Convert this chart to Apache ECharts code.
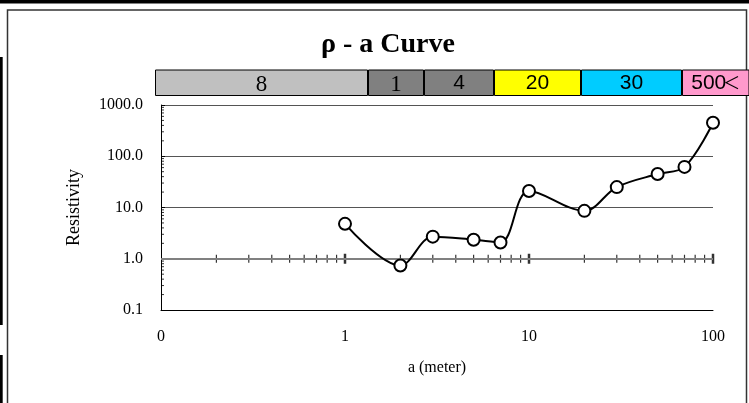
<!DOCTYPE html>
<html>
<head>
<meta charset="utf-8">
<script src="https://cdn.jsdelivr.net/npm/echarts@6/dist/echarts.min.js"></script>
<style>
html,body{margin:0;padding:0;background:#fff;}
#chart{width:749px;height:403px;}
</style>
</head>
<body>
<div id="chart"></div>
<script>
// ---- data ----
const aValues = [1, 2, 3, 5, 7, 10, 20, 30, 50, 70, 100];
const rhoValues = [4.8, 0.74, 2.7, 2.35, 2.08, 21, 8.6, 25, 45, 62, 450];

const xTickValues = [0.1, 1, 10, 100];
const xTickLabels = ['0', '1', '10', '100'];
const yTickValues = [0.1, 1, 10, 100, 1000];
const yTickLabels = ['0.1', '1.0', '10.0', '100.0', '1000.0'];

const xMinorTicks = [0.2, 0.3, 0.4, 0.5, 0.6, 0.7, 0.8, 0.9,
                     2, 3, 4, 5, 6, 7, 8, 9,
                     20, 30, 40, 50, 60, 70, 80, 90];
const xMajorTicks = [1, 10, 100];
const yMinorTicks = [0.2, 0.3, 0.4, 0.5, 0.6, 0.7, 0.8, 0.9,
                     2, 3, 4, 5, 6, 7, 8, 9,
                     20, 30, 40, 50, 60, 70, 80, 90,
                     200, 300, 400, 500, 600, 700, 800, 900];

const bandLabels = ['8', '1', '4', '20', '30', '500＜'];
const bandSpans = [213, 56, 70, 87, 101, 72];

// ---- styles ----
const bandColors = ['#C0C0C0', '#808080', '#808080', '#FFFF00', '#00CCFF', '#FF99CC'];
const bandSerif = [true, true, false, false, false, false];
const SERIF = '"Liberation Serif","Times New Roman",serif';
const SANS = '"Liberation Sans",Arial,"Noto Sans CJK JP",sans-serif';

function lookup(v, vals, labels) {
  for (let i = 0; i < vals.length; i++) {
    if (Math.abs(Math.log10(v) - Math.log10(vals[i])) < 1e-6) return labels[i];
  }
  return '';
}

// wrap the full-width "＜" in a narrower rich-text style
function bandText(lab) {
  return lab.replace(/＜/g, '{lt|＜}');
}

const chart = echarts.init(document.getElementById('chart'), null, {renderer: 'canvas'});

const bandSeries = bandLabels.map((lab, i) => ({
  type: 'bar',
  xAxisIndex: 1,
  yAxisIndex: 1,
  stack: 'band',
  barWidth: '100%',
  clip: true,
  silent: true,
  data: [bandSpans[i]],
  itemStyle: {color: bandColors[i], borderColor: '#000', borderWidth: 1},
  label: {
    show: true,
    position: 'inside',
    formatter: bandText(lab),
    color: '#000',
    fontFamily: bandSerif[i] ? SERIF : SANS,
    fontSize: bandSerif[i] ? 23 : 21,
    offset: bandSerif[i] ? [0, 2] : [0, 0],
    rich: {
      lt: {fontFamily: '"Noto Sans CJK JP",sans-serif', fontSize: 17, color: '#000', padding: [0, 0, 0, -3]}
    }
  }
}));

const option = {
  backgroundColor: '#fff',
  animation: false,
  title: {
    text: 'ρ - a Curve',
    left: 383,
    textAlign: 'center',
    top: 26,
    textStyle: {fontFamily: SERIF, fontWeight: 'bold', fontSize: 28, color: '#000'}
  },
  graphic: [
    {type: 'rect', shape: {x: 0, y: 0, width: 749, height: 3.5}, style: {fill: '#000'}, silent: true},
    {type: 'rect', shape: {x: 0, y: 57, width: 2.7, height: 268}, style: {fill: '#000'}, silent: true},
    {type: 'rect', shape: {x: 0, y: 355, width: 2.7, height: 48}, style: {fill: '#000'}, silent: true},
    {type: 'rect', shape: {x: 7.5, y: 10, width: 739, height: 400}, style: {fill: 'none', stroke: '#333', lineWidth: 1.5}, silent: true}
  ],
  grid: [
    {left: 161, right: 36, top: 105, height: 205, containLabel: false},
    {left: 155, right: 0, top: 69.5, height: 26.5, containLabel: false}
  ],
  xAxis: [
    {
      type: 'log',
      logBase: 10,
      min: 0.1,
      max: 100,
      gridIndex: 0,
      name: 'a (meter)',
      nameLocation: 'middle',
      nameGap: 50,
      nameTextStyle: {fontFamily: SERIF, fontSize: 16, color: '#000'},
      axisLine: {show: true, lineStyle: {color: '#000', width: 1}},
      axisTick: {show: false},
      minorTick: {show: false},
      splitLine: {show: false},
      axisLabel: {
        margin: 19,
        fontFamily: SERIF,
        fontSize: 16,
        color: '#000',
        formatter: v => lookup(v, xTickValues, xTickLabels)
      }
    },
    {type: 'value', gridIndex: 1, min: 0, max: 594, show: false}
  ],
  yAxis: [
    {
      type: 'log',
      logBase: 10,
      min: 0.1,
      max: 1000,
      gridIndex: 0,
      name: 'Resistivity',
      nameLocation: 'middle',
      nameGap: 78,
      nameRotate: 90,
      nameTextStyle: {fontFamily: SERIF, fontSize: 18, color: '#000'},
      axisLine: {show: true, lineStyle: {color: '#000', width: 1}},
      axisTick: {show: true, inside: true, length: 4, lineStyle: {color: '#000'}},
      splitLine: {show: true, lineStyle: {color: '#555', width: 1}},
      axisLabel: {
        margin: 18,
        fontFamily: SERIF,
        fontSize: 16,
        color: '#000',
        formatter: v => lookup(v, yTickValues, yTickLabels)
      }
    },
    {type: 'category', gridIndex: 1, data: ['band'], show: false}
  ],
  series: [
    ...bandSeries,
    {
      type: 'scatter',
      name: 'yMinorTicks',
      xAxisIndex: 0, yAxisIndex: 0,
      silent: true,
      clip: false,
      symbol: 'rect',
      symbolSize: [3, 1],
      symbolOffset: [1.5, 0],
      itemStyle: {color: '#000'},
      data: yMinorTicks.map(v => [0.1, v]),
      z: 3
    },
    {
      type: 'scatter',
      name: 'xMinorTicks',
      xAxisIndex: 0, yAxisIndex: 0,
      silent: true,
      symbol: 'rect',
      symbolSize: [1.2, 8],
      itemStyle: {color: '#000'},
      data: xMinorTicks.map(v => [v, 1]),
      markLine: {
        silent: true,
        symbol: 'none',
        label: {show: false},
        lineStyle: {color: '#808080', width: 2, type: 'solid'},
        data: [{yAxis: 1}]
      },
      z: 3
    },
    {
      type: 'scatter',
      name: 'xMajorTicks',
      xAxisIndex: 0, yAxisIndex: 0,
      silent: true,
      clip: false,
      symbol: 'rect',
      symbolSize: [2.5, 10],
      itemStyle: {color: '#000'},
      data: xMajorTicks.map(v => [v, 1]),
      z: 3
    },
    {
      type: 'line',
      name: 'rho',
      xAxisIndex: 0, yAxisIndex: 0,
      data: aValues.map((a, i) => [a, rhoValues[i]]),
      smooth: 0.35,
      symbol: 'circle',
      symbolSize: 12,
      showSymbol: true,
      lineStyle: {color: '#000', width: 2},
      itemStyle: {color: '#fff', borderColor: '#000', borderWidth: 2},
      silent: true,
      z: 5
    }
  ]
};
chart.setOption(option);
</script>
</body>
</html>
